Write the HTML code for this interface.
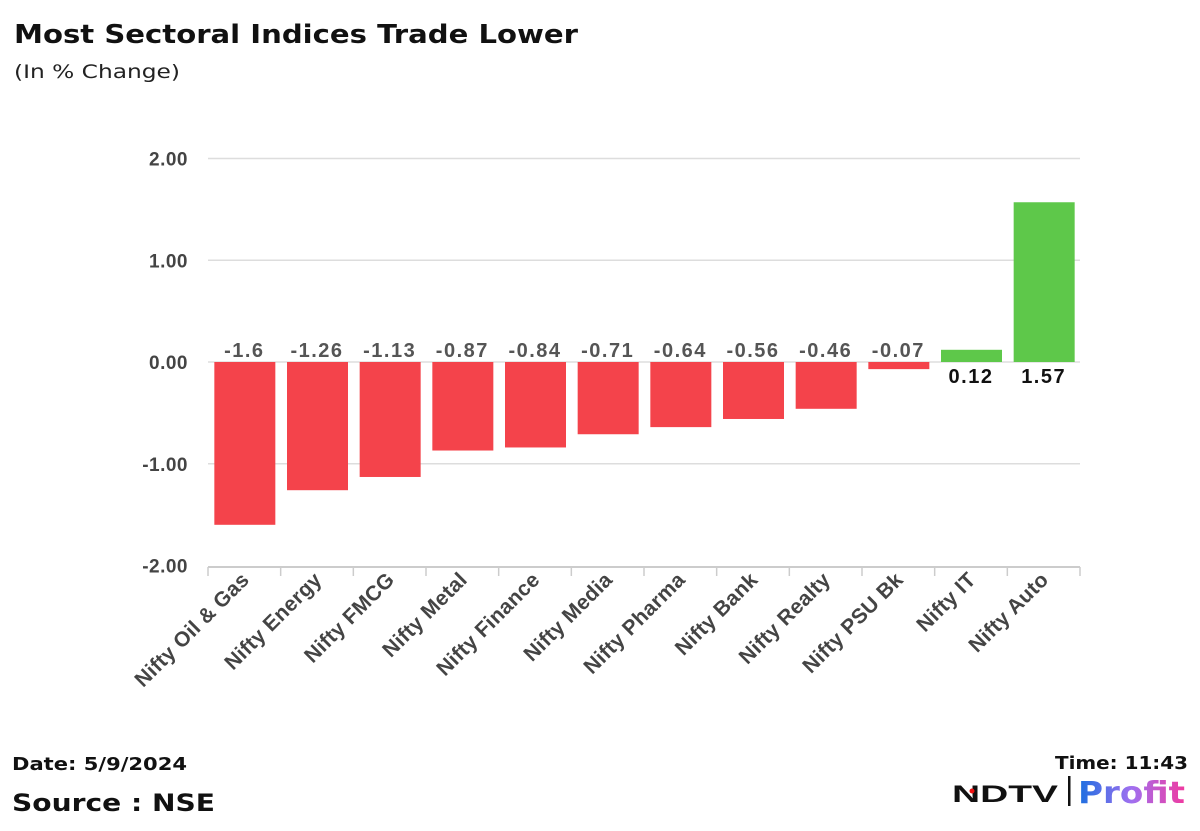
<!DOCTYPE html>
<html><head><meta charset="utf-8"><style>
body{margin:0;background:#fff;width:1200px;height:831px;overflow:hidden;font-family:"Liberation Sans",sans-serif;}
svg{position:absolute;left:0;top:0}
.d{font-family:"DejaVu Sans",sans-serif}
</style></head><body>
<svg id="c" width="1200" height="831">
<text class="d" x="14" y="43" font-size="26" font-weight="bold" fill="#111" textLength="564" lengthAdjust="spacingAndGlyphs">Most Sectoral Indices Trade Lower</text>
<text class="d" x="14" y="78" font-size="19" fill="#222" textLength="166" lengthAdjust="spacingAndGlyphs">(In % Change)</text>
<text class="d" x="12" y="770" font-size="18" font-weight="bold" fill="#111" textLength="175" lengthAdjust="spacingAndGlyphs">Date: 5/9/2024</text>
<text class="d" x="12" y="811" font-size="24" font-weight="bold" fill="#111" textLength="203" lengthAdjust="spacingAndGlyphs">Source : NSE</text>
<text class="d" x="1055" y="769" font-size="18" font-weight="bold" fill="#111" textLength="133" lengthAdjust="spacingAndGlyphs">Time: 11:43</text>
<g>
<defs><linearGradient id="pg" x1="0" x2="1"><stop offset="0" stop-color="#1a6fe0"/><stop offset="0.5" stop-color="#a070f0"/><stop offset="1" stop-color="#f03aa0"/></linearGradient></defs>
<text x="952" y="802" font-size="24" font-weight="900" fill="#111" textLength="106" lengthAdjust="spacingAndGlyphs">NDTV</text>
<circle cx="972" cy="791" r="2.5" fill="#e11"/>
<rect x="1068" y="776" width="2.5" height="30" fill="#111"/>
<text class="d" x="1078" y="803" font-size="30" font-weight="bold" fill="url(#pg)" textLength="107" lengthAdjust="spacingAndGlyphs">Profit</text>
</g>
<g id="plot"></g>
</svg>
<script>
const categories=["Nifty Oil & Gas","Nifty Energy","Nifty FMCG","Nifty Metal","Nifty Finance","Nifty Media","Nifty Pharma","Nifty Bank","Nifty Realty","Nifty PSU Bk","Nifty IT","Nifty Auto"];
const values=[-1.6,-1.26,-1.13,-0.87,-0.84,-0.71,-0.64,-0.56,-0.46,-0.07,0.12,1.57];
const valueLabels=["-1.6","-1.26","-1.13","-0.87","-0.84","-0.71","-0.64","-0.56","-0.46","-0.07","0.12","1.57"];
const yTicks=[2,1,0,-1,-2];
const yTickLabels=["2.00","1.00","0.00","-1.00","-2.00"];
const NS="http://www.w3.org/2000/svg";
const g=document.getElementById('plot');
const X0=208,X1=1080,band=(X1-X0)/categories.length;
const y=v=>362-v*101.75;
const xc=i=>X0+band*(i+0.5);
function el(t,a,txt){const e=document.createElementNS(NS,t);for(const k in a)e.setAttribute(k,a[k]);if(txt!=null)e.textContent=txt;g.appendChild(e);return e;}
yTicks.forEach((v,i)=>{
 if(v!==-2){const l=el('line',{x1:X0,x2:X1,y1:y(v),y2:y(v),stroke:'#ddd','stroke-width':1.5});
 
 }
 const t=el('text',{x:188,y:y(v)+7,'text-anchor':'end','font-size':19,'font-weight':'bold',fill:'#444','letter-spacing':0.5},yTickLabels[i]);
 
 
});
const ax=el('line',{x1:X0,x2:X1,y1:567,y2:567,stroke:'#ccc','stroke-width':2});


for(let i=0;i<=categories.length;i++){const tk=el('line',{x1:X0+band*i,x2:X0+band*i,y1:567,y2:576,stroke:'#ccc','stroke-width':1.5});
 
 }
values.forEach((v,i)=>{
 const bw=61,x=xc(i)-bw/2+0.5;
 const top=Math.min(y(v),y(0)),h=Math.abs(y(v)-y(0));
 const r=el('rect',{x:x,y:top,width:bw,height:h,fill:v<0?'#f4434b':'#5ec84a'});
 
 
 const ly=v<0?y(0)-5:y(0)+21;
 const t=el('text',{x:xc(i),y:ly,'text-anchor':'middle','font-size':20,'font-weight':'bold',fill:v<0?'#555':'#111','letter-spacing':1.5},valueLabels[i]);
 
 
 const cx=xc(i)+6,cy=581;
 const c=el('text',{x:cx,y:cy,'text-anchor':'end','font-size':21,'font-weight':'bold',fill:'#444','letter-spacing':0.3,transform:`rotate(-45 ${cx} ${cy})`},categories[i]);
 
 
});
</script>
</body></html>
